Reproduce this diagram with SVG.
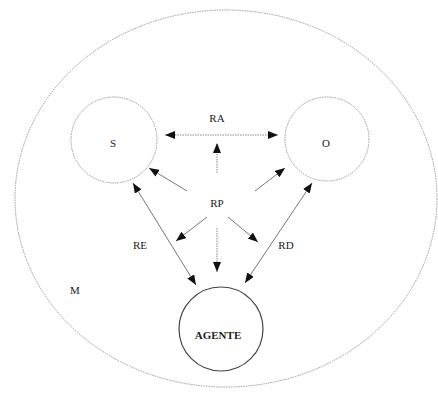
<svg xmlns="http://www.w3.org/2000/svg" width="438" height="397" viewBox="0 0 438 397">
<style>
text{font-family:"Liberation Serif","Times New Roman",serif;font-size:11px;fill:#222;text-anchor:middle}
.dot{fill:none;stroke:#999;stroke-width:1;stroke-dasharray:1.5 1}
.ln{fill:none;stroke:#777;stroke-width:1}
.dl{fill:none;stroke:#888;stroke-width:1;stroke-dasharray:1.5 1}
</style>
<defs>
<marker id="ah" viewBox="0 0 10 8" refX="10" refY="4" markerWidth="10" markerHeight="8" markerUnits="userSpaceOnUse" orient="auto-start-reverse">
<path d="M0,0L10,4L0,8z" fill="#111"/>
</marker>
</defs>
<rect width="438" height="397" fill="#fff"/>
<g id="M">
<ellipse class="dot" cx="226" cy="198.5" rx="211" ry="188.5"/>
<text x="75" y="294">M</text>
</g>
<g id="S">
<circle class="dot" cx="114" cy="140" r="43"/>
<text x="113" y="147">S</text>
</g>
<g id="O">
<circle class="dot" cx="327" cy="139" r="42"/>
<text x="326" y="147">O</text>
</g>
<g id="AGENTE">
<circle cx="221" cy="329" r="42" fill="none" stroke="#444" stroke-width="1.2"/>
<text x="218" y="339" font-weight="bold">AGENTE</text>
</g>
<g id="RP"><text x="217" y="207">RP</text></g>
<g id="connectors">
<line class="dl" x1="165" y1="135" x2="278" y2="135" marker-start="url(#ah)" marker-end="url(#ah)"/>
<line class="dl" x1="217" y1="173" x2="217" y2="143" marker-end="url(#ah)"/>
<line class="ln" x1="187" y1="191" x2="149" y2="168" marker-end="url(#ah)"/>
<line class="ln" x1="255" y1="191" x2="285" y2="168" marker-end="url(#ah)"/>
<line class="ln" x1="207" y1="217" x2="176" y2="241" marker-end="url(#ah)"/>
<line class="dl" x1="217" y1="228" x2="217" y2="272" marker-end="url(#ah)"/>
<line class="ln" x1="228" y1="217" x2="258" y2="242" marker-end="url(#ah)"/>
<line class="ln" x1="133" y1="183" x2="196" y2="285" marker-start="url(#ah)" marker-end="url(#ah)"/>
<line class="ln" x1="312" y1="183" x2="245" y2="283" marker-start="url(#ah)" marker-end="url(#ah)"/>
<text x="217" y="122">RA</text>
<text x="140" y="249">RE</text>
<text x="286" y="249">RD</text>
</g>
</svg>
